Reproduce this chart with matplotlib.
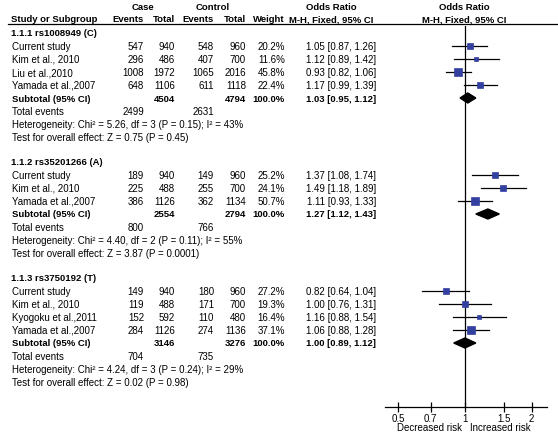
import numpy as np
import matplotlib.pyplot as plt
from matplotlib.patches import Polygon

plt.rcParams['font.family'] = ['Liberation Sans', 'DejaVu Sans']

# ---- data ----
grupos = ["1.1.1 rs1008949 (C)", "1.1.2 rs35201266 (A)", "1.1.3 rs3750192 (T)"]

estudios = [
    ["Current study", "Kim et al., 2010", "Liu et al.,2010", "Yamada et al.,2007"],
    ["Current study", "Kim et al., 2010", "Yamada et al.,2007"],
    ["Current study", "Kim et al., 2010", "Kyogoku et al.,2011", "Yamada et al.,2007"],
]
case_events = [[547, 296, 1008, 648], [189, 225, 386], [149, 119, 152, 284]]
case_total = [[940, 486, 1972, 1106], [940, 488, 1126], [940, 488, 592, 1126]]
ctrl_events = [[548, 407, 1065, 611], [149, 255, 362], [180, 171, 110, 274]]
ctrl_total = [[960, 700, 2016, 1118], [960, 700, 1134], [960, 700, 480, 1136]]
pesos = [[20.2, 11.6, 45.8, 22.4], [25.2, 24.1, 50.7], [27.2, 19.3, 16.4, 37.1]]
odds = [[1.05, 1.12, 0.93, 1.17], [1.37, 1.49, 1.11], [0.82, 1.00, 1.16, 1.06]]
ci_lo = [[0.87, 0.89, 0.82, 0.99], [1.08, 1.18, 0.93], [0.64, 0.76, 0.88, 0.88]]
ci_hi = [[1.26, 1.42, 1.06, 1.39], [1.74, 1.89, 1.33], [1.04, 1.31, 1.54, 1.28]]

sub_case_total = [4504, 2554, 3146]
sub_ctrl_total = [4794, 2794, 3276]
sub_or = [1.03, 1.27, 1.00]
sub_lo = [0.95, 1.12, 0.89]
sub_hi = [1.12, 1.43, 1.12]
tot_case_events = [2499, 800, 704]
tot_ctrl_events = [2631, 766, 735]
heterog = [
    "Heterogeneity: Chi² = 5.26, df = 3 (P = 0.15); I² = 43%",
    "Heterogeneity: Chi² = 4.40, df = 2 (P = 0.11); I² = 55%",
    "Heterogeneity: Chi² = 4.24, df = 3 (P = 0.24); I² = 29%",
]
efecto = [
    "Test for overall effect: Z = 0.75 (P = 0.45)",
    "Test for overall effect: Z = 3.87 (P = 0.0001)",
    "Test for overall effect: Z = 0.02 (P = 0.98)",
]
ticks = [0.5, 0.7, 1, 1.5, 2]
tick_labels = ["0.5", "0.7", "1", "1.5", "2"]

W, H = 558, 435
fs = 7.0
fs_b = 6.8
azul = "#3340a0"

fig = plt.figure(figsize=(W / 100, H / 100), dpi=100)
tabla = fig.add_axes([0, 0, 1, 1])
tabla.set_xlim(0, W)
tabla.set_ylim(H, 0)
tabla.axis("off")

# panel del forest plot: el eje y va en filas de pixel
x0, x1, ytop, ybot = 385, 547, 27, 408
ax = fig.add_axes([x0 / W, (H - ybot) / H, (x1 - x0) / W, (ybot - ytop) / H])
ax.set_xscale("log")
ax.set_xlim(0.435, 2.35)
ax.set_ylim(ybot, ytop)
ax.patch.set_alpha(0)
for s in ["top", "left", "right"]:
    ax.spines[s].set_visible(False)
ax.spines["bottom"].set_linewidth(0.9)
ax.set_yticks([])
ax.set_xticks(ticks)
ax.set_xticklabels(tick_labels, fontsize=fs)
ax.xaxis.set_minor_locator(plt.NullLocator())
ax.tick_params(axis="x", direction="inout", length=7, width=0.9, pad=1)
ax.axvline(1, color="black", lw=0.9)


def t(x, y, s, ha="left", bold=False):
    tabla.text(x, y, s, ha=ha, va="center", fontsize=fs_b if bold else fs,
               fontweight="bold" if bold else "normal")


# encabezados
t(143, 7, "Case", ha="center", bold=True)
t(213, 7, "Control", ha="center", bold=True)
t(331, 7, "Odds Ratio", ha="center", bold=True)
t(464, 7, "Odds Ratio", ha="center", bold=True)
t(11, 20, "Study or Subgroup", bold=True)
t(144, 20, "Events", ha="right", bold=True)
t(175, 20, "Total", ha="right", bold=True)
t(214, 20, "Events", ha="right", bold=True)
t(246, 20, "Total", ha="right", bold=True)
t(285, 20, "Weight", ha="right", bold=True)
t(331, 20, "M-H, Fixed, 95% CI", ha="center", bold=True)
t(464, 20, "M-H, Fixed, 95% CI", ha="center", bold=True)
tabla.plot([8, W], [24.5, 24.5], color="black", lw=0.9)

inicio = [34, 163, 279]
for g in range(3):
    y = inicio[g]
    t(11, y, grupos[g], bold=True)
    for i in range(len(estudios[g])):
        y += 13
        t(12, y, estudios[g][i])
        t(144, y, str(case_events[g][i]), ha="right")
        t(175, y, str(case_total[g][i]), ha="right")
        t(214, y, str(ctrl_events[g][i]), ha="right")
        t(246, y, str(ctrl_total[g][i]), ha="right")
        t(285, y, f"{pesos[g][i]:.1f}%", ha="right")
        t(376, y, f"{odds[g][i]:.2f} [{ci_lo[g][i]:.2f}, {ci_hi[g][i]:.2f}]", ha="right")
        ax.plot([ci_lo[g][i], ci_hi[g][i]], [y, y], color="black", lw=0.9, zorder=2)
        ax.plot(odds[g][i], y, marker="s", color=azul, ms=0.85 * np.sqrt(pesos[g][i]),
                mec=azul, mew=0.5, zorder=3)
    y += 13
    t(12, y, "Subtotal (95% CI)", bold=True)
    t(175, y, str(sub_case_total[g]), ha="right", bold=True)
    t(246, y, str(sub_ctrl_total[g]), ha="right", bold=True)
    t(285, y, "100.0%", ha="right", bold=True)
    t(376, y, f"{sub_or[g]:.2f} [{sub_lo[g]:.2f}, {sub_hi[g]:.2f}]", ha="right", bold=True)
    dia = Polygon([[sub_lo[g], y], [sub_or[g], y - 5], [sub_hi[g], y], [sub_or[g], y + 5]],
                  closed=True, color="black", zorder=3)
    ax.add_patch(dia)
    y += 13
    t(12, y, "Total events")
    t(144, y, str(tot_case_events[g]), ha="right")
    t(214, y, str(tot_ctrl_events[g]), ha="right")
    y += 13
    t(12, y, heterog[g])
    y += 13
    t(12, y, efecto[g])

t(462, 428, "Decreased risk", ha="right")
t(470, 428, "Increased risk")

fig.savefig("out.png", dpi=100)
